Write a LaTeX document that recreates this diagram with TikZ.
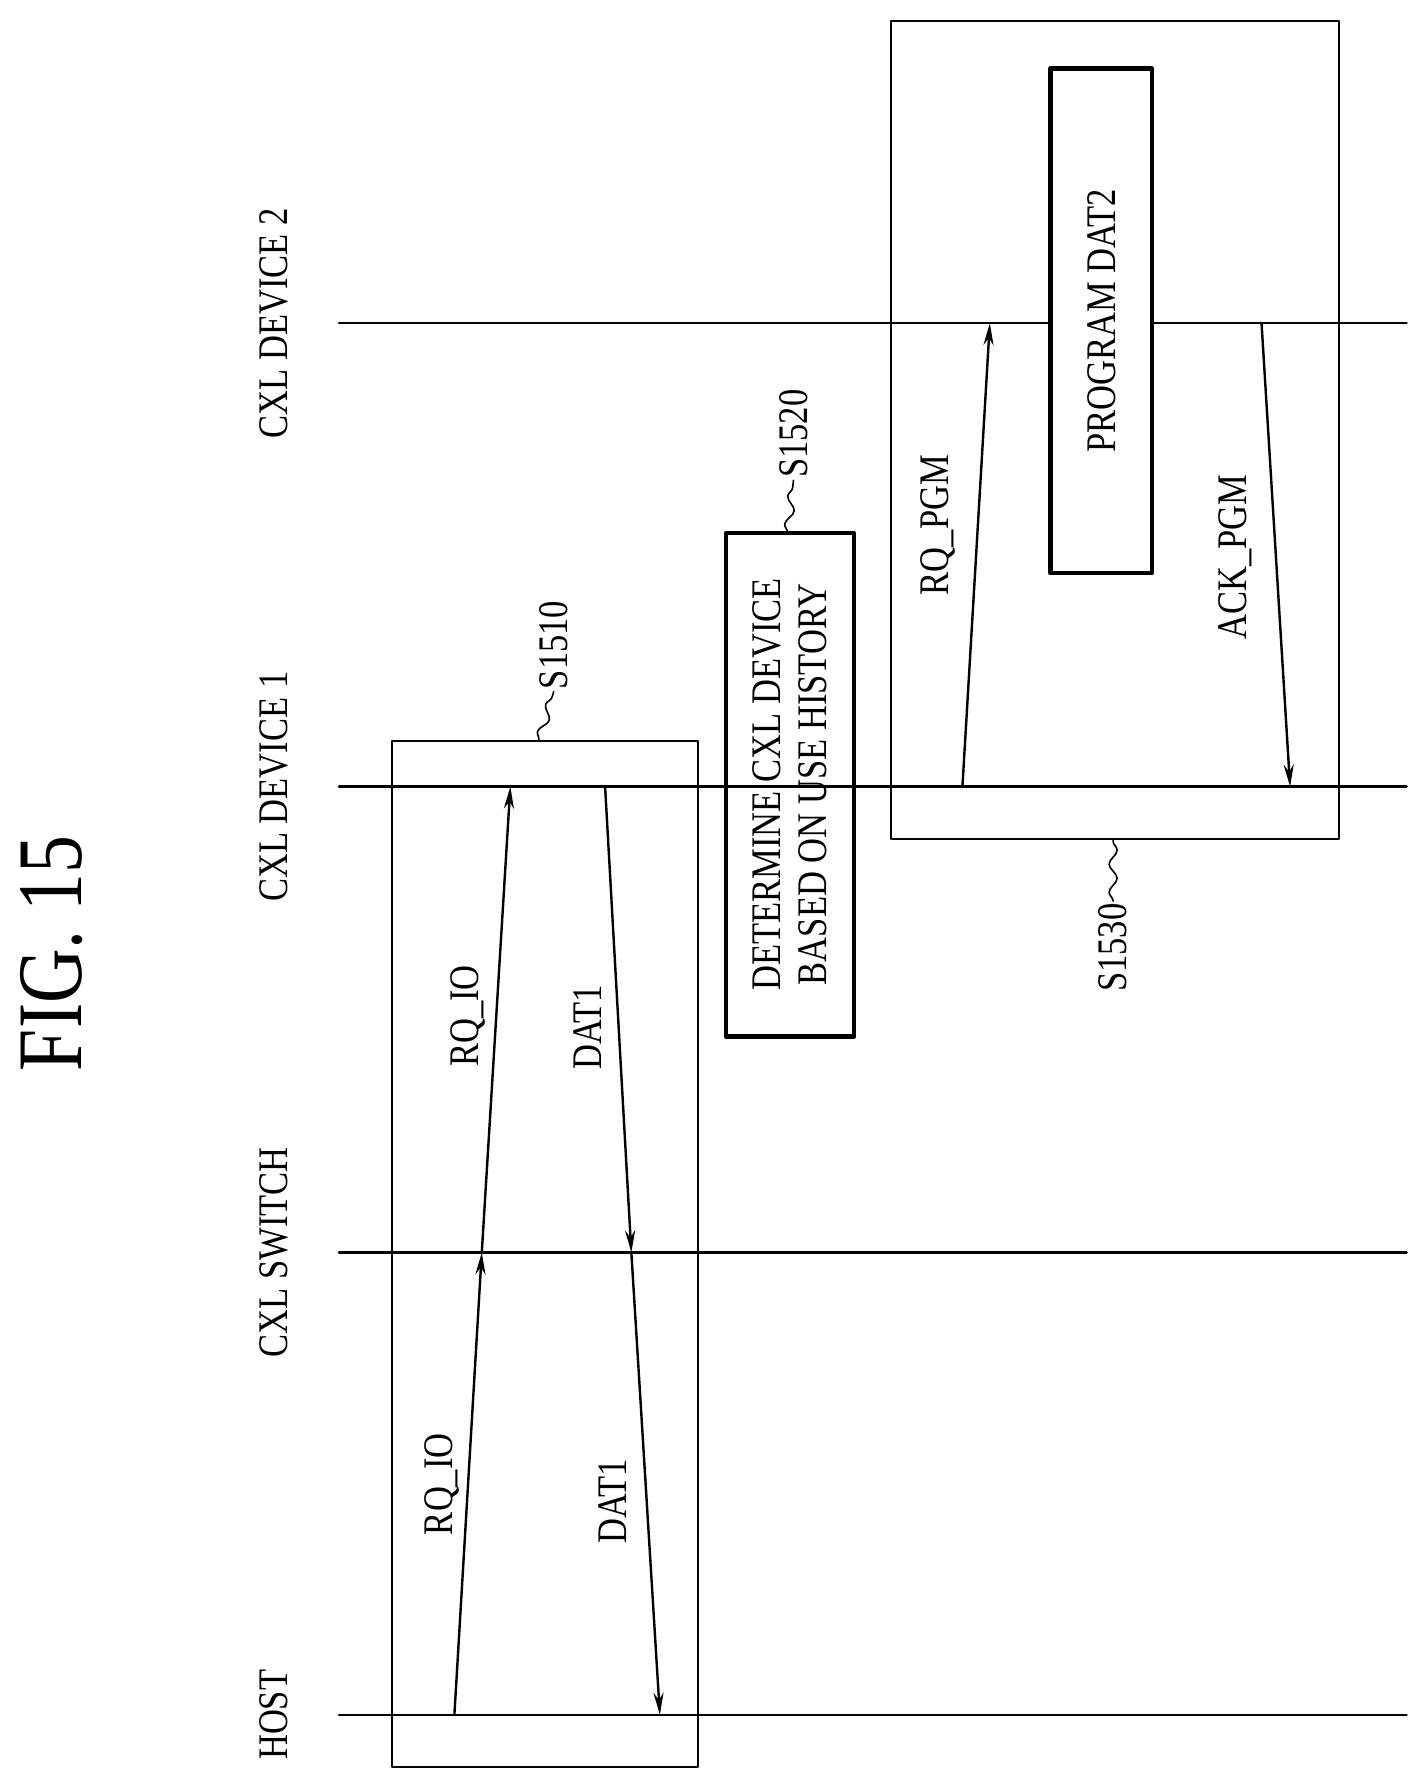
\documentclass[tikz,border=0pt]{standalone}
\usepackage{fontspec}
\setmainfont[FakeStretch=0.82]{Liberation Serif}
\usetikzlibrary{arrows.meta,decorations.pathmorphing}

\begin{document}
\begin{tikzpicture}[x=0.02cm,y=-0.02cm,line cap=round,line join=round,>={Stealth[length=11pt,width=5pt]},
  lbl/.style={rotate=90,font=\fontsize{21}{23}\selectfont,inner sep=1pt},
  msg/.style={line width=1.2pt,->},
  squig/.style={line width=0.8pt,decorate,decoration={snake,amplitude=2pt,segment length=14pt}}]
  \useasboundingbox (0,0) rectangle (1240,1560);
  % lifelines
  \foreach \y/\n/\t in {1502/host/HOST,1097/sw/CXL SWITCH,689/dA/CXL DEVICE 1,283/dB/CXL DEVICE 2}{
    \coordinate (\n-l) at (297,\y);
    \coordinate (\n-r) at (1232,\y);
    \draw[line width=1.3pt] (\n-l) -- (\n-r);
    \node[lbl] (\n-t) at (240,\y) {\t};
  }
  \node[rotate=90,font=\fontsize{46}{50}\selectfont] (fig) at (45,835) {FIG. 15};
  % S1510
  \draw[line width=1pt] (343,649) rectangle (611,1548);
  \node[lbl] (s1510) at (485,565) {S1510};
  \draw[squig] (472,649) -- (s1510.west);
  \coordinate (a1) at (398,1502); \coordinate (a2) at (422,1097); \coordinate (a3) at (447,689);
  \draw[msg] (a1) -- (a2);
  \draw[msg] (a2) -- (a3);
  \node[lbl] at (387,1300) {RQ\_IO};
  \node[lbl] at (410,890) {RQ\_IO};
  \coordinate (b1) at (530,689); \coordinate (b2) at (553,1097); \coordinate (b3) at (578,1502);
  \draw[msg] (b1) -- (b2);
  \draw[msg] (b2) -- (b3);
  \node[lbl] at (515,900) {DAT1};
  \node[lbl] at (537,1315) {DAT1};
  % S1520
  \draw[line width=2.2pt] (636,467) rectangle (748,908);
  \node[lbl,align=center] (det) at (692,687) {DETERMINE CXL DEVICE\\BASED ON USE HISTORY};
  \node[lbl] (s1520) at (695,380) {S1520};
  \draw[squig] (690,467) -- (s1520.west);
  % S1530
  \draw[line width=1pt] (780,18) rectangle (1173,735);
  \node[lbl] (s1530) at (975,830) {S1530};
  \draw[squig] (s1530.east) -- (975,735);
  \coordinate (c1) at (843,689); \coordinate (c2) at (867,283);
  \draw[msg] (c1) -- (c2);
  \node[lbl] at (822,460) {RQ\_PGM};
  \draw[line width=2.2pt,fill=white] (920,60) rectangle (1009,502);
  \node[lbl] (pgm) at (965,281) {PROGRAM DAT2};
  \coordinate (d1) at (1105,283); \coordinate (d2) at (1130,689);
  \draw[msg] (d1) -- (d2);
  \node[lbl] at (1082,488) {ACK\_PGM};
\end{tikzpicture}
\end{document}
